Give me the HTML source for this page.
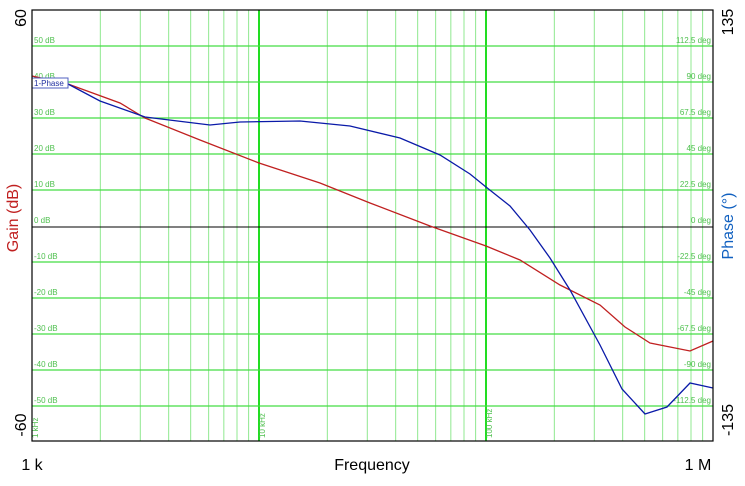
<!DOCTYPE html><html><head><style>body{margin:0;background:#fff}svg{display:block}</style></head><body>
<svg id="s" width="745" height="486" xmlns="http://www.w3.org/2000/svg" font-family="Liberation Sans, sans-serif">
<rect width="745" height="486" fill="#fff"/>
<g id="grid"></g>
<line x1="32" y1="227" x2="713" y2="227" stroke="#000" stroke-width="1"/>
<polyline fill="none" stroke="#c02020" stroke-width="1.3" points="32,76 68,84 120,103 145,118 200,140 259,163 320,183 370,203 430,226 486,246 520,260 560,285 600,305 625,327 650,343 690,351 713,341"/>
<polyline fill="none" stroke="#0a1aa8" stroke-width="1.3" points="32,80 68,84 100,101 145,117 210,125 240,122 300,121 350,126 400,138 440,155 470,174 486,187 510,206 530,230 550,258 570,290 600,345 622,389 645,414 667,407 690,383 713,388"/>
<rect x="32" y="78" width="36" height="10" fill="#fff" stroke="#5060c0" stroke-width="1"/>
<text x="34" y="86" font-size="8" fill="#2030a0">1-Phase</text>
<rect x="32" y="10" width="681" height="431" fill="none" stroke="#000" stroke-width="1.2"/>
<text x="22" y="18" font-size="16" text-anchor="middle" transform="rotate(-90 22 18)" dominant-baseline="middle">60</text>
<text x="22" y="425" font-size="16" text-anchor="middle" transform="rotate(-90 22 425)" dominant-baseline="middle">-60</text>
<text x="22" y="226" font-size="16" fill="#c02020" text-anchor="middle" transform="rotate(-90 14 226)" dominant-baseline="middle" x="14">Gain (dB)</text>
<text x="729" y="22" font-size="16" text-anchor="middle" transform="rotate(-90 729 22)" dominant-baseline="middle">135</text>
<text x="729" y="420" font-size="16" text-anchor="middle" transform="rotate(-90 729 420)" dominant-baseline="middle">-135</text>
<text x="729" y="226" font-size="16" fill="#1060c0" text-anchor="middle" transform="rotate(-90 729 226)" dominant-baseline="middle">Phase (°)</text>
<text x="32" y="470" font-size="16" text-anchor="middle">1 k</text>
<text x="372" y="470" font-size="16" text-anchor="middle">Frequency</text>
<text x="698" y="470" font-size="16" text-anchor="middle">1 M</text>
</svg>
<script>
var g=document.getElementById('grid'),ns='http://www.w3.org/2000/svg',h='';
for(var d=0;d<3;d++)for(var k=1;k<=10;k++){var x=32+227*(d+Math.log10(k));var major=(k==1&&d>0);if(k==1&&d==0)continue;if(k==10)continue;
h+='<line x1="'+x+'" y1="10" x2="'+x+'" y2="441" stroke="'+(major?'#22dd22':'#90e890')+'" stroke-width="'+(major?2:1)+'"/>';}
var ph=['112.5','90','67.5','45','22.5','0','-22.5','-45','-67.5','-90','-112.5'];
for(var i=0;i<11;i++){var y=46+36*i;var db=50-10*i;
if(db!=0)h+='<line x1="32" y1="'+y+'" x2="713" y2="'+y+'" stroke="#44dd44" stroke-width="1.3"/>';
h+='<text x="34" y="'+(y-3)+'" font-size="8" fill="#50c050">'+db+' dB</text>';
h+='<text x="711" y="'+(y-3)+'" font-size="8" fill="#50c050" text-anchor="end">'+ph[i]+' deg</text>';}
[['1 kHz',38],['10 kHz',265],['100 kHz',492]].forEach(function(a){h+='<text font-size="8" fill="#50c050" transform="translate('+a[1]+',438) rotate(-90)">'+a[0]+'</text>';});
g.innerHTML=h;
</script>
</body></html>
